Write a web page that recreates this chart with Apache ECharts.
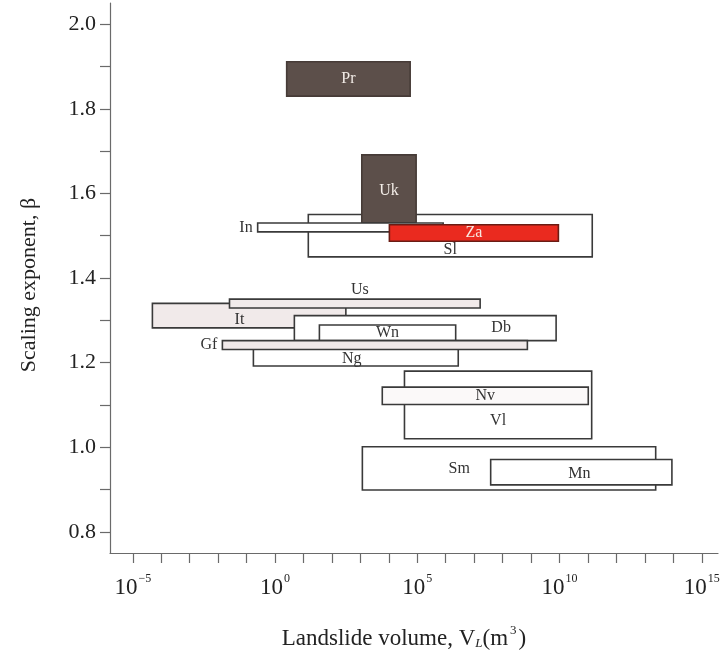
<!DOCTYPE html>
<html><head><meta charset="utf-8">
<script src="https://cdn.jsdelivr.net/npm/echarts@6/dist/echarts.min.js"></script>
<style>html,body{margin:0;padding:0;background:#fff}#c{width:724px;height:663px}</style>
</head><body><div id="c"></div><script>
// Region labels, in drawing order (later ones drawn on top)
const names     = ['Pr', 'Sl', 'Uk', 'In', 'Za', 'It', 'Us', 'Db', 'Wn', 'Ng', 'Gf', 'Vl', 'Nv', 'Sm', 'Mn'];
// log10 of landslide volume range (m^3)
const logVolMin = [0.41, 1.17, 3.05, -0.61, 4.02, -4.31, -1.60, 0.68, 1.56, -0.76, -1.85, 4.55, 3.77, 3.07, 7.58];
const logVolMax = [4.75, 11.15, 4.96, 5.91, 9.96, 2.49, 7.21, 9.88, 6.35, 6.44, 8.87, 11.13, 11.01, 13.38, 13.95];
// scaling exponent range
const betaMin   = [1.830, 1.450, 1.530, 1.509, 1.487, 1.282, 1.329, 1.252, 1.252, 1.192, 1.231, 1.020, 1.101, 0.899, 0.911];
const betaMax   = [1.911, 1.550, 1.691, 1.530, 1.526, 1.340, 1.350, 1.311, 1.289, 1.245, 1.252, 1.180, 1.142, 1.001, 0.971];

const xTickExps  = [-5,-4,-3,-2,-1,0,1,2,3,4,5,6,7,8,9,10,11,12,13,14,15];
const xLabelExps = [-5, 0, 5, 10, 15];
const yTicks     = [0.8,0.9,1.0,1.1,1.2,1.3,1.4,1.5,1.6,1.7,1.8,1.9,2.0];
const yLabels    = [0.8,1.0,1.2,1.4,1.6,1.8,2.0];

// styles (not data)
const DARK = {fill:'#5c4f4a', stroke:'#463b37', text:'#f3ede8'};
const RED  = {fill:'#ea2a1f', stroke:'#6a1c14', text:'#f8e8e0'};
const PLAIN = {fill:'#ffffff', stroke:'#3a3a3a', text:'#333333'};
const PINK = {fill:'#f1eaea', stroke:'#3a3a3a', text:'#333333'};
const boxStyle = {Pr:DARK, Uk:DARK, Za:RED, It:PINK, Us:PINK, Gf:PINK, Nv:{fill:'#fbf9f9',stroke:'#3a3a3a',text:'#333'}};
const labelPlace = {
  Pr:{fx:0.5,fy:0.5}, Sl:{fx:0.5,fy:0.83}, Uk:{fx:0.5,fy:0.53}, In:{side:'left'},
  Za:{fx:0.5,fy:0.5}, It:{fx:0.45,fy:0.68}, Us:{side:'top',fx:0.52}, Db:{fx:0.79,fy:0.49},
  Wn:{fx:0.5,fy:0.5}, Ng:{fx:0.48,fy:0.69}, Gf:{side:'left'}, Vl:{fx:0.5,fy:0.73},
  Nv:{fx:0.5,fy:0.5}, Sm:{fx:0.33,fy:0.5}, Mn:{fx:0.49,fy:0.55}
};
const SERIF = '"Liberation Serif","DejaVu Serif",serif';

const chart = echarts.init(document.getElementById('c'), null, {renderer:'canvas'});
const option = {
  animation:false,
  backgroundColor:'#ffffff',
  grid:{left:110, right:6, top:3, bottom:110},
  xAxis:{
    type:'value', min:-5.8, max:15.57,
    axisLine:{show:true, onZero:false, lineStyle:{color:'#6a6a6a', width:1.2}},
    splitLine:{show:false},
    axisTick:{show:true, inside:false, length:10, customValues:xTickExps, lineStyle:{color:'#6a6a6a', width:1.2}},
    axisLabel:{
      customValues:xLabelExps, margin:20,
      formatter:function(v){ const e = Math.round(v); return '{b|10}{s|' + (e<0 ? '\u2212'+(-e) : e) + '}'; },
      rich:{
        b:{fontFamily:SERIF, fontSize:23, color:'#222', lineHeight:26, verticalAlign:'bottom'},
        s:{fontFamily:SERIF, fontSize:12, color:'#222', lineHeight:26, verticalAlign:'top', padding:[0,0,0,1]}
      }
    },
    name:'{t|Landslide volume, V}{sub|L}{t|(m}{sup|3}{t|)}',
    nameLocation:'middle', nameGap:69,
    nameTextStyle:{
      padding:[0,20,0,0],
      rich:{
        t:{fontFamily:SERIF, fontSize:23, color:'#222', lineHeight:28, verticalAlign:'bottom'},
        sub:{fontFamily:SERIF, fontSize:13, fontStyle:'italic', color:'#222', lineHeight:24, verticalAlign:'bottom'},
        sup:{fontFamily:SERIF, fontSize:13, color:'#222', lineHeight:28, verticalAlign:'top', padding:[2,2,0,2]}
      }
    }
  },
  yAxis:{
    type:'value', min:0.75, max:2.05,
    axisLine:{show:true, onZero:false, lineStyle:{color:'#6a6a6a', width:1.2}},
    splitLine:{show:false},
    axisTick:{show:true, inside:false, length:10, customValues:yTicks, lineStyle:{color:'#6a6a6a', width:1.2}},
    axisLabel:{customValues:yLabels, margin:14, fontFamily:SERIF, fontSize:22, color:'#222',
      formatter:function(v){ return v.toFixed(1); }},
    name:'Scaling exponent, \u03b2', nameLocation:'middle', nameGap:70,
    nameTextStyle:{fontFamily:SERIF, fontSize:22, color:'#222', padding:[0,14,0,0]}
  },
  series:[{
    type:'custom',
    coordinateSystem:'cartesian2d',
    encode:{x:[0,1], y:[2,3]},
    data:names.map(function(n,i){ return [logVolMin[i], logVolMax[i], betaMin[i], betaMax[i]]; }),
    clip:false,
    renderItem:function(params, api){
      const i = params.dataIndex;
      const n = names[i];
      const tl = api.coord([api.value(0), api.value(3)]);
      const br = api.coord([api.value(1), api.value(2)]);
      const x = tl[0], y = tl[1], w = br[0]-tl[0], h = br[1]-tl[1];
      const st = boxStyle[n] || PLAIN;
      const lp = labelPlace[n];
      let tx, ty, align='center', va='middle';
      if (lp.side === 'left') { tx = x - 5; ty = y + h/2; align = 'right'; }
      else if (lp.side === 'top') { tx = x + w*lp.fx; ty = y - 1; va = 'bottom'; }
      else { tx = x + w*lp.fx; ty = y + h*lp.fy; }
      return {type:'group', children:[
        {type:'rect', shape:{x:x, y:y, width:w, height:h},
         style:{fill:st.fill, stroke:st.stroke, lineWidth:1.6}},
        {type:'text', x:tx, y:ty,
         style:{text:n, fill: (lp.side ? '#333' : st.text), font:'16px ' + SERIF, align:align, verticalAlign:va}}
      ]};
    }
  }]
};
chart.setOption(option);
</script></body></html>
